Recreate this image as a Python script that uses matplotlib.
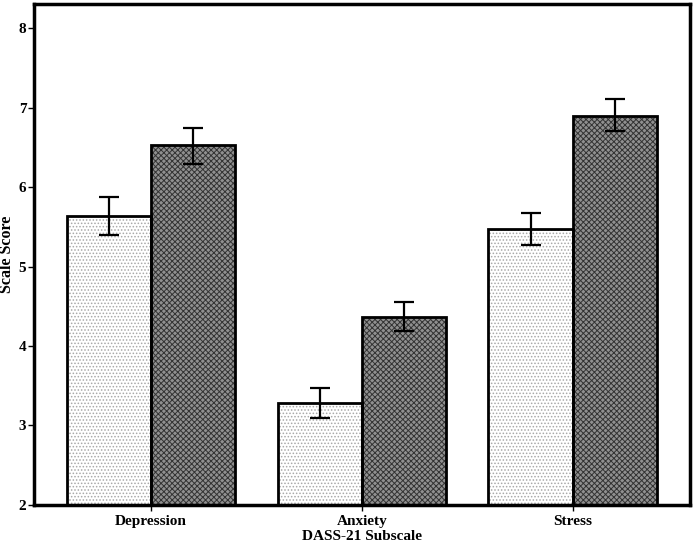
import numpy as np
import matplotlib
matplotlib.use("Agg")
import matplotlib.pyplot as plt

# data
subscales = ["Depression", "Anxiety", "Stress"]
group1_mean = [5.64, 3.28, 5.48]
group1_low = [5.40, 3.10, 5.27]
group1_high = [5.88, 3.47, 5.68]
group2_mean = [6.53, 4.37, 6.90]
group2_low = [6.29, 4.19, 6.71]
group2_high = [6.75, 4.56, 7.11]

plt.rcParams['font.family'] = ['Liberation Serif', 'DejaVu Serif']
plt.rcParams['font.weight'] = 'bold'
plt.rcParams['hatch.linewidth'] = 0.7

fig = plt.figure(figsize=(6.94, 5.47), dpi=100)
ax = fig.add_axes([0.049, 0.077, 0.945, 0.916])

x = np.arange(len(subscales))
w = 0.4

m1 = np.array(group1_mean)
m2 = np.array(group2_mean)
err1 = [m1 - np.array(group1_low), np.array(group1_high) - m1]
err2 = [m2 - np.array(group2_low), np.array(group2_high) - m2]

# light dotted bars
ax.bar(x - w / 2, m1 - 2, w, bottom=2, color='white', edgecolor='#a8a8a8',
       linewidth=0, hatch='.....', zorder=2)
ax.bar(x - w / 2, m1 - 2, w, bottom=2, color='none', edgecolor='black',
       linewidth=2, zorder=3)
# dark checkered bars
ax.bar(x + w / 2, m2 - 2, w, bottom=2, color='#909090', edgecolor='#333333',
       linewidth=0, hatch='xxxxxx', zorder=2)
ax.bar(x + w / 2, m2 - 2, w, bottom=2, color='none', edgecolor='black',
       linewidth=2, zorder=3)

ax.errorbar(x - w / 2, m1, yerr=err1, fmt='none', ecolor='black',
            elinewidth=1.6, capsize=7.5, capthick=1.6, zorder=4)
ax.errorbar(x + w / 2, m2, yerr=err2, fmt='none', ecolor='black',
            elinewidth=1.6, capsize=7.5, capthick=1.6, zorder=4)

ax.set_xlim(-0.555, 2.555)
ax.set_ylim(2, 8.31)
ax.set_xticks(x)
ax.set_xticklabels(subscales, fontsize=11, fontweight='bold')
ax.set_yticks(range(2, 9))
ax.tick_params(axis='y', labelsize=11, length=4, width=1, pad=1.5)
ax.tick_params(axis='x', length=4, width=1, pad=3)
for s in ax.spines.values():
    s.set_linewidth(2.5)

ax.set_xlabel("DASS-21 Subscale", fontsize=11, fontweight='bold', labelpad=2)
ax.set_ylabel("Scale Score", fontsize=11.5, fontweight='bold', labelpad=3)

fig.savefig("out.png", dpi=100)
